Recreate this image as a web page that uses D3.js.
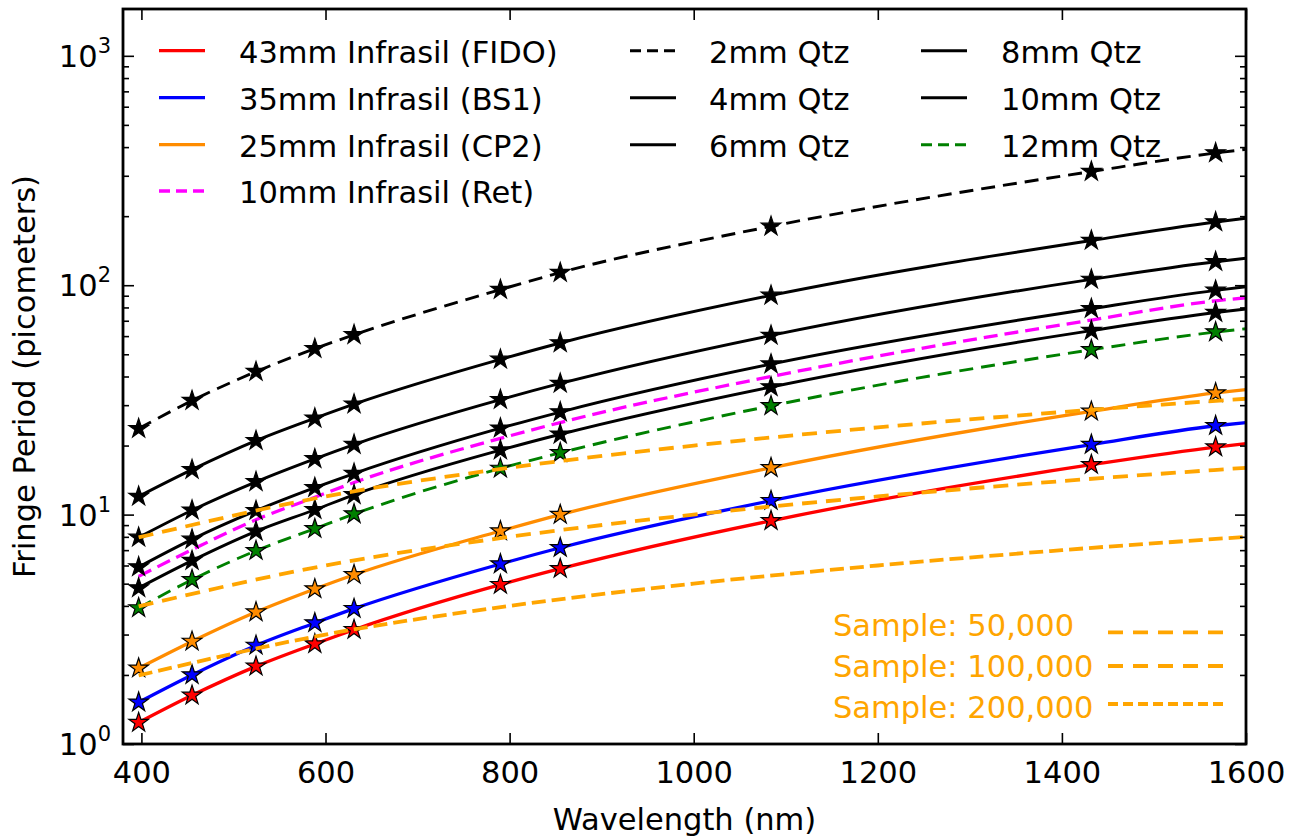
<!DOCTYPE html>
<html>
<head>
<meta charset="utf-8">
<script src="https://cdn.jsdelivr.net/npm/d3@7"></script>
<style>
  body { margin: 0; background: #fff; }
  text { font-family: "DejaVu Sans", sans-serif; }
</style>
</head>
<body>
<div id="chart"></div>
<script>
// wavelengths of the starred lines (nm), last entry = right edge of the plot
var wl = [397, 455, 524.5, 588.4, 631, 790, 855, 1084, 1432, 1567, 1600];

// fringe period (pm)
var fido  = [1.24, 1.63, 2.18, 2.73, 3.15, 4.95, 5.81, 9.4, 16.5, 19.7, 20.4];
var bs1   = [1.52, 2.00, 2.69, 3.37, 3.89, 6.09, 7.17, 11.5, 20.2, 24.4, 25.2];
var cp2   = [2.14, 2.80, 3.76, 4.74, 5.47, 8.48, 10.0, 16.0, 28.2, 33.9, 35.1];
var ret   = [5.38, 7.03, 9.5, 11.9, 13.8, 21.5, 25.2, 40.0, 70.5, 85.5, 88.2];
var qtz2  = [23.7, 31.4, 42, 52.9, 60.8, 95.7, 113.5, 180.5, 313, 377, 391];
var qtz4  = [12.0, 15.7, 21, 26.3, 30.3, 47.5, 56, 90.3, 156.7, 188.6, 196];
var qtz6  = [7.96, 10.45, 13.9, 17.5, 20.2, 31.7, 37.3, 60.4, 106, 126.6, 131];
var qtz8  = [5.91, 7.8, 10.4, 13.1, 15.1, 23.8, 28, 45.3, 79, 95, 98.5];
var qtz10 = [4.79, 6.3, 8.45, 10.5, 12.2, 19.1, 22.4, 36, 63.4, 76, 78.8];
var qtz12 = [3.92, 5.2, 6.96, 8.68, 10.06, 15.9, 18.6, 29.8, 52.3, 62.5, 64.6];

// sample resolution lines
var sampleWl = [397, 600, 800, 1000, 1200, 1400, 1600];
var s50k  = [7.95, 12, 16, 20, 24, 28, 32];
var s100k = [3.98, 6, 8, 10, 12, 14, 16];
var s200k = [1.99, 3, 4, 5, 6, 7, 8];

var xTicks = [400, 600, 800, 1000, 1200, 1400, 1600];
var yMajor = [1, 10, 100, 1000];

(function (){
var width = 1297, height = 838;
var pL = 123, pR = 1246, pT = 9, pB = 744;
var fs = 30.5;

var svg = d3.select("#chart").append("svg")
    .attr("width", width)
    .attr("height", height);

var x = d3.scaleLinear().domain([380, 1600]).range([pL, pR]);
var y = d3.scaleLog().domain([1, 1600]).range([pB, pT]);

svg.append("clipPath").attr("id", "plot")
  .append("rect")
    .attr("x", pL).attr("y", pT)
    .attr("width", pR - pL).attr("height", pB - pT);

var line = d3.line()
    .x(function(d){ return x(d[0]); })
    .y(function(d){ return y(d[1]); })
    .curve(d3.curveMonotoneX);

function pairs(xs, ys){
    return xs.map(function(v, i){ return [v, ys[i]]; });
}

var series = [
  {name: "43mm Infrasil (FIDO)", vals: fido, color: "#ff0000", fill: "#ff0000", w: 3.3, dash: null, star: true},
  {name: "35mm Infrasil (BS1)", vals: bs1, color: "#0000ff", fill: "#0000ff", w: 3.3, dash: null, star: true},
  {name: "25mm Infrasil (CP2)", vals: cp2, color: "#ff8c00", fill: "#ff8c00", w: 3.3, dash: null, star: true},
  {name: "10mm Infrasil (Ret)", vals: ret, color: "#ff00ff", fill: null, w: 3.3, dash: "14,7", star: false},
  {name: "2mm Qtz", vals: qtz2, color: "#000", fill: "#000", w: 2.9, dash: "14,8", star: true},
  {name: "4mm Qtz", vals: qtz4, color: "#000", fill: "#000", w: 2.9, dash: null, star: true},
  {name: "6mm Qtz", vals: qtz6, color: "#000", fill: "#000", w: 2.9, dash: null, star: true},
  {name: "8mm Qtz", vals: qtz8, color: "#000", fill: "#000", w: 2.9, dash: null, star: true},
  {name: "10mm Qtz", vals: qtz10, color: "#000", fill: "#000", w: 2.9, dash: null, star: true},
  {name: "12mm Qtz", vals: qtz12, color: "#008000", fill: "#008000", w: 2.9, dash: "14,8", star: true}
];

var samples = [
  {name: "Sample: 50,000", vals: s50k, dash: "15,9"},
  {name: "Sample: 100,000", vals: s100k, dash: "15,9"},
  {name: "Sample: 200,000", vals: s200k, dash: "14,6"}
];

var plot = svg.append("g").attr("clip-path", "url(#plot)");
var star = d3.symbol().type(d3.symbolStar).size(118);

series.forEach(function(s){
    var pts = pairs(wl, s.vals);
    plot.append("path")
        .attr("d", line(pts))
        .attr("fill", "none")
        .attr("stroke", s.color)
        .attr("stroke-width", s.w)
        .attr("stroke-dasharray", s.dash);
    if (s.star) {
        plot.selectAll(null)
            .data(pts.slice(0, pts.length - 1))
            .enter().append("path")
            .attr("d", star)
            .attr("transform", function(d){ return "translate(" + x(d[0]) + "," + y(d[1]) + ")"; })
            .attr("fill", s.fill)
            .attr("stroke", "#000")
            .attr("stroke-width", 1.2)
            .attr("stroke-linejoin", "miter");
    }
});

samples.forEach(function(s){
    plot.append("path")
        .attr("d", line(pairs(sampleWl, s.vals)))
        .attr("fill", "none")
        .attr("stroke", "#ffa500")
        .attr("stroke-width", 3.8)
        .attr("stroke-dasharray", s.dash);
});

// axes, ticks pointing inwards
var yMinor = [];
yMajor.forEach(function(d){
    for (var k = 2; k <= 9; k++) if (d * k <= 1600) yMinor.push(d * k);
});

function styleAxis(g){
    g.select(".domain").remove();
    g.selectAll(".tick line").attr("stroke", "#000").attr("stroke-width", 1.6);
}

svg.append("g").attr("transform", "translate(0," + pB + ")")
    .call(d3.axisBottom(x).tickValues(xTicks).tickFormat(d3.format("d"))
        .tickSizeInner(-11).tickSizeOuter(0).tickPadding(17))
    .call(styleAxis)
    .selectAll("text").attr("font-size", fs).attr("fill", "#000")
    .style("font-family", "DejaVu Sans");

svg.append("g").attr("transform", "translate(0," + pT + ")")
    .call(d3.axisTop(x).tickValues(xTicks).tickSizeInner(-11).tickSizeOuter(0).tickFormat(""))
    .call(styleAxis);

[[d3.axisLeft, pL], [d3.axisRight, pR]].forEach(function(a){
    svg.append("g").attr("transform", "translate(" + a[1] + ",0)")
        .call(a[0](y).tickValues(yMajor).tickSizeInner(-11).tickSizeOuter(0).tickFormat(""))
        .call(styleAxis);
    svg.append("g").attr("transform", "translate(" + a[1] + ",0)")
        .call(a[0](y).tickValues(yMinor).tickSizeInner(-6).tickSizeOuter(0).tickFormat(""))
        .call(styleAxis);
});

var ylab = svg.selectAll(".ylab").data(yMajor).enter().append("text")
    .attr("class", "ylab")
    .attr("x", 111)
    .attr("y", function(d){ return y(d) + 11; })
    .attr("text-anchor", "end")
    .attr("font-size", fs);
ylab.append("tspan").text("10");
ylab.append("tspan").attr("dy", -14).attr("font-size", 21)
    .text(function(d){ return Math.round(Math.log10(d)); });

svg.append("rect")
    .attr("x", pL).attr("y", pT)
    .attr("width", pR - pL).attr("height", pB - pT)
    .attr("fill", "none").attr("stroke", "#000").attr("stroke-width", 2.8);

svg.append("text")
    .attr("x", (pL + pR) / 2).attr("y", 830)
    .attr("text-anchor", "middle").attr("font-size", fs)
    .text("Wavelength (nm)");

svg.append("text")
    .attr("transform", "translate(35," + (pT + pB) / 2 + ") rotate(-90)")
    .attr("text-anchor", "middle").attr("font-size", fs)
    .text("Fringe Period (picometers)");

// legend, three columns
var cols = [[159, 239], [630, 709], [921, 1001]];
var rowY = [50.7, 97.7, 144.7, 191];
var slots = [[0,0],[0,1],[0,2],[0,3],[1,0],[1,1],[1,2],[2,0],[2,1],[2,2]];
var leg = svg.append("g");
series.forEach(function(s, i){
    var c = cols[slots[i][0]], ry = rowY[slots[i][1]];
    leg.append("line")
        .attr("x1", c[0]).attr("x2", c[0] + 46)
        .attr("y1", ry).attr("y2", ry)
        .attr("stroke", s.color).attr("stroke-width", s.w)
        .attr("stroke-dasharray", s.dash ? "11,6" : null);
    leg.append("text")
        .attr("x", c[1]).attr("y", ry + 12)
        .attr("font-size", fs)
        .text(s.name);
});

// sample legend
var sTextY = [635.7, 676.7, 718.3];
var sLineY = [632.3, 666, 704];
var sLineX2 = [1223, 1223, 1228];
var dashL = ["15,10", "15,10", "10,5"];
samples.forEach(function(s, i){
    leg.append("text")
        .attr("x", 833).attr("y", sTextY[i])
        .attr("font-size", fs).attr("fill", "#ffa500")
        .text(s.name);
    leg.append("line")
        .attr("x1", 1108).attr("x2", sLineX2[i])
        .attr("y1", sLineY[i]).attr("y2", sLineY[i])
        .attr("stroke", "#ffa500").attr("stroke-width", 3.8)
        .attr("stroke-dasharray", dashL[i]);
});
})();
</script>
</body>
</html>
